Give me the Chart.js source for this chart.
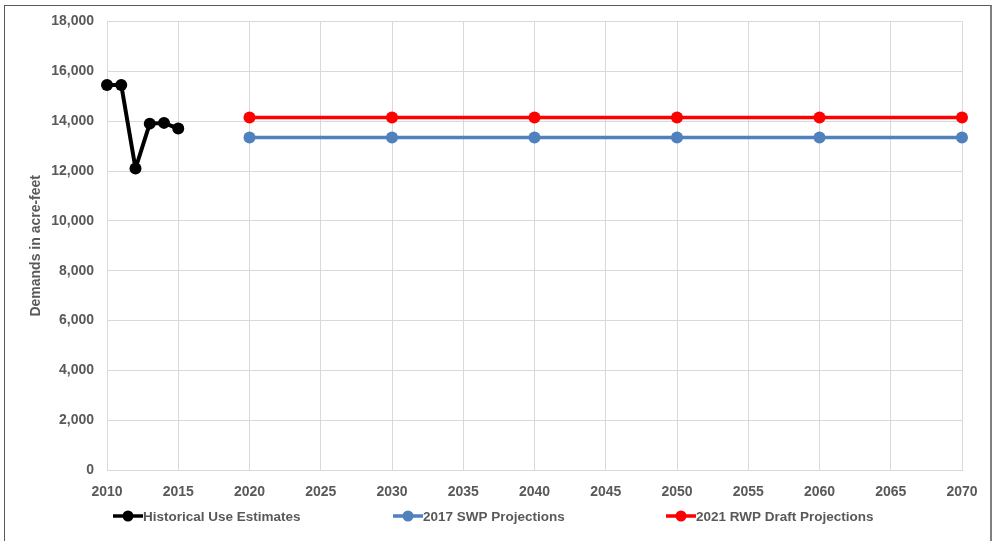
<!DOCTYPE html>
<html>
<head>
<meta charset="utf-8">
<script src="https://cdn.jsdelivr.net/npm/chart.js@4/dist/chart.umd.min.js"></script>
<style>
  html, body { margin: 0; padding: 0; background: #fff; width: 996px; height: 541px; overflow: hidden; }
  #frame { position: absolute; left: 4px; top: 5px; width: 988px; height: 560px; border: 1px solid #595959; border-right: 2px solid #808080; box-sizing: border-box; pointer-events: none; }
  #wrap { position: absolute; left: 0; top: 0; width: 996px; height: 541px; }
</style>
</head>
<body>
<div id="wrap"><canvas id="c" width="996" height="541"></canvas></div>
<div id="frame"></div>
<script>
const histYears = [2010, 2011, 2012, 2013, 2014, 2015];
const histValues = [15450, 15450, 12100, 13900, 13930, 13700];
const projYears = [2020, 2030, 2040, 2050, 2060, 2070];
const swpValues = [13340, 13340, 13340, 13340, 13340, 13340];
const rwpValues = [14150, 14150, 14150, 14150, 14150, 14150];
const seriesNames = ['Historical Use Estimates', '2017 SWP Projections', '2021 RWP Draft Projections'];
const yTitle = 'Demands in acre-feet';

const FONT = 'Liberation Sans, Arial, sans-serif';
const TXT = '#595959';
const colors = ['#000000', '#4f81bd', '#ff0000'];
const legendLeft = [113, 393, 666];

const toXY = (xs, ys) => xs.map((x, i) => ({ x: x, y: ys[i] }));

const legendPlugin = {
  id: 'lineLegend',
  afterDraw(chart) {
    const ctx = chart.ctx;
    const y = 516;
    ctx.save();
    chart.data.datasets.forEach((d, i) => {
      const x = legendLeft[i];
      ctx.strokeStyle = colors[i];
      ctx.lineWidth = 3.5;
      ctx.beginPath(); ctx.moveTo(x, y); ctx.lineTo(x + 30, y); ctx.stroke();
      ctx.fillStyle = colors[i];
      ctx.beginPath(); ctx.arc(x + 15, y, 5.5, 0, Math.PI * 2); ctx.fill();
      ctx.fillStyle = TXT;
      ctx.font = 'bold 13.5px ' + FONT;
      ctx.textBaseline = 'middle';
      ctx.textAlign = 'left';
      ctx.fillText(d.label, x + 30, y + 1);
    });
    ctx.restore();
  }
};

new Chart(document.getElementById('c'), {
  type: 'line',
  data: {
    datasets: [
      { label: seriesNames[0], data: toXY(histYears, histValues) },
      { label: seriesNames[1], data: toXY(projYears, swpValues) },
      { label: seriesNames[2], data: toXY(projYears, rwpValues) }
    ].map((d, i) => Object.assign(d, {
      borderColor: colors[i], backgroundColor: colors[i],
      pointBackgroundColor: colors[i], pointBorderColor: colors[i],
      borderWidth: i === 0 ? 4 : 3.5, pointRadius: 6, pointHoverRadius: 6, pointBorderWidth: 0,
      borderJoinStyle: 'round', borderCapStyle: 'round',
      pointStyle: 'circle', tension: 0, fill: false, clip: false
    }))
  },
  plugins: [legendPlugin],
  options: {
    responsive: false,
    animation: false,
    layout: { padding: { left: 0, right: 34, top: 19, bottom: 26 } },
    plugins: {
      tooltip: { enabled: false },
      legend: { display: false }
    },
    scales: {
      x: {
        type: 'linear', min: 2010, max: 2070,
        grid: { color: '#d9d9d9', drawTicks: false },
        border: { color: '#d9d9d9' },
        ticks: { stepSize: 5, padding: 14, color: TXT, maxRotation: 0,
          font: { family: FONT, size: 14, weight: 'bold' },
          callback: v => String(v) }
      },
      y: {
        min: 0, max: 18000,
        grid: { color: '#d9d9d9', drawTicks: false },
        border: { color: '#d9d9d9' },
        ticks: { stepSize: 2000, padding: 13, color: TXT,
          font: { family: FONT, size: 14, weight: 'bold' },
          callback: v => v.toLocaleString('en-US') },
        title: { display: true, text: yTitle, color: TXT, padding: { top: 28, bottom: 0 },
          font: { family: FONT, size: 14, weight: 'bold' } },
        afterFit(scale) { scale.width = 107; }
      }
    }
  }
});
</script>
</body>
</html>
